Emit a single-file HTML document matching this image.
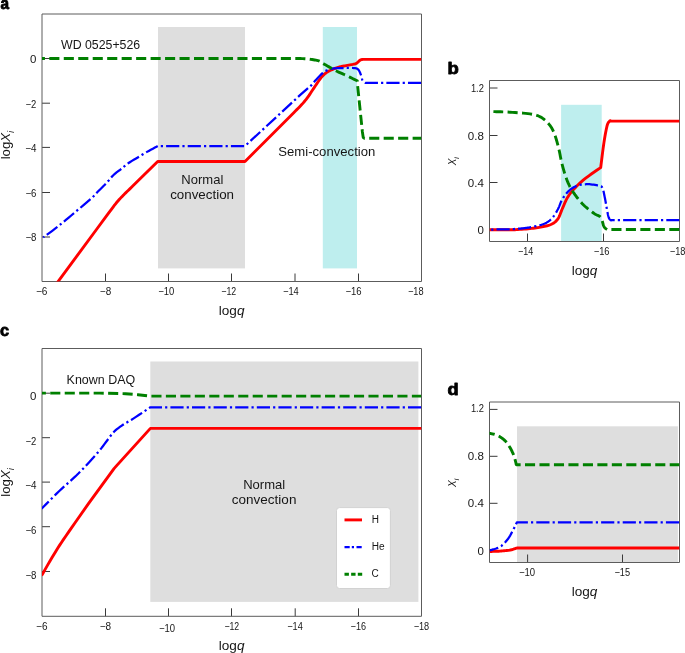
<!DOCTYPE html>
<html lang="en">
<head>
<meta charset="utf-8">
<title>Abundance profiles</title>
<style>
html,body{margin:0;padding:0;background:#ffffff;}
body{width:685px;height:653px;overflow:hidden;font-family:"Liberation Sans", Arial, Helvetica, sans-serif;}
svg{display:block;}
text{white-space:pre;}
</style>
</head>
<body>
<svg width="685" height="653" viewBox="0 0 685 653" font-family='"Liberation Sans", Arial, Helvetica, sans-serif' fill="#161616">
<rect width="685" height="653" fill="#ffffff"/>
<g id="panel-a">
<clipPath id="ca"><rect x="42.0" y="14.0" width="379.5" height="267.5"/></clipPath>
<rect x="158.0" y="27" width="87.0" height="241.4" fill="#dedede"/>
<rect x="322.8" y="27" width="34.2" height="241.4" fill="#beeeee"/>
<line x1="105.5" y1="281.5" x2="105.5" y2="273.5" stroke="#3a3a3a" stroke-width="1"/>
<line x1="168.5" y1="281.5" x2="168.5" y2="273.5" stroke="#3a3a3a" stroke-width="1"/>
<line x1="231.5" y1="281.5" x2="231.5" y2="273.5" stroke="#3a3a3a" stroke-width="1"/>
<line x1="295.0" y1="281.5" x2="295.0" y2="273.5" stroke="#3a3a3a" stroke-width="1"/>
<line x1="358.5" y1="281.5" x2="358.5" y2="273.5" stroke="#3a3a3a" stroke-width="1"/>
<line x1="42.0" y1="58.5" x2="50.0" y2="58.5" stroke="#3a3a3a" stroke-width="1"/>
<line x1="42.0" y1="103.2" x2="50.0" y2="103.2" stroke="#3a3a3a" stroke-width="1"/>
<line x1="42.0" y1="147.4" x2="50.0" y2="147.4" stroke="#3a3a3a" stroke-width="1"/>
<line x1="42.0" y1="192.5" x2="50.0" y2="192.5" stroke="#3a3a3a" stroke-width="1"/>
<line x1="42.0" y1="237.0" x2="50.0" y2="237.0" stroke="#3a3a3a" stroke-width="1"/>
<path d="M42.0 281.5V14.0H421.5V281.5Z" fill="none" stroke="#5c5c5c" stroke-width="1" stroke-linejoin="miter"/>
<polyline fill="none" stroke="#ff0000" stroke-width="2.9" stroke-linejoin="round" clip-path="url(#ca)" points="42.60,302.50 58.40,281.10 96.10,230.00 108.00,213.90 108.93,212.65 110.27,210.84 111.79,208.80 113.28,206.81 114.50,205.20 115.41,204.03 116.17,203.09 116.83,202.28 117.49,201.52 118.20,200.70 118.97,199.83 119.75,198.98 120.54,198.13 121.36,197.28 122.20,196.40 123.04,195.54 123.87,194.70 124.74,193.83 125.70,192.88 126.80,191.80 128.19,190.44 129.84,188.84 131.51,187.21 132.98,185.79 134.00,184.80 157.70,161.50 245.00,161.50 294.00,112.40 294.69,111.72 295.66,110.75 296.80,109.63 297.95,108.47 299.00,107.40 299.93,106.44 300.84,105.51 301.72,104.58 302.61,103.61 303.50,102.60 304.40,101.54 305.30,100.44 306.19,99.31 307.09,98.13 308.00,96.90 308.89,95.64 309.76,94.34 310.64,92.99 311.58,91.55 312.60,90.00 313.84,88.14 315.26,86.01 316.69,83.87 317.93,82.00 318.80,80.70 319.43,79.83 320.01,79.05 320.55,78.34 321.06,77.69 321.56,77.08 322.06,76.50 322.57,75.95 323.10,75.40 323.64,74.87 324.17,74.38 324.70,73.92 325.24,73.48 325.78,73.07 326.33,72.67 326.91,72.28 327.50,71.90 328.11,71.53 328.74,71.18 329.39,70.84 330.04,70.52 330.71,70.21 331.40,69.90 332.09,69.60 332.80,69.30 333.52,69.00 334.27,68.70 335.03,68.41 335.80,68.12 336.58,67.84 337.36,67.58 338.13,67.33 338.90,67.10 339.64,66.90 340.34,66.72 341.03,66.57 341.72,66.42 342.45,66.28 343.22,66.14 344.07,65.98 345.00,65.80 346.09,65.60 347.34,65.37 348.69,65.14 350.07,64.90 351.42,64.66 352.69,64.43 353.80,64.20 354.70,64.00 355.36,63.82 355.85,63.67 356.20,63.52 356.44,63.39 356.64,63.25 356.82,63.09 357.02,62.91 357.30,62.70 357.62,62.44 357.95,62.14 358.27,61.81 358.59,61.48 358.92,61.14 359.24,60.82 359.57,60.54 359.90,60.30 360.23,60.11 360.57,59.95 360.92,59.81 361.26,59.70 361.61,59.61 361.94,59.53 362.28,59.46 362.60,59.40 362.93,59.36 363.28,59.34 363.63,59.33 363.97,59.34 364.29,59.36 364.58,59.38 364.82,59.39 365.00,59.40 421.30,59.40"/>
<polyline fill="none" stroke="#0000ff" stroke-width="2.25" stroke-linejoin="round" stroke-dasharray="13.2 3.1 2.2 3.1" stroke-dashoffset="17.25" clip-path="url(#ca)" points="43.30,237.40 44.85,236.26 46.99,234.71 49.52,232.86 52.28,230.81 55.10,228.69 57.80,226.60 60.43,224.49 63.15,222.26 65.92,219.96 68.72,217.60 71.52,215.24 74.30,212.90 77.18,210.48 80.21,207.94 83.25,205.39 86.14,202.94 88.74,200.70 90.90,198.80 92.48,197.34 93.59,196.24 94.39,195.36 95.10,194.55 95.91,193.64 97.00,192.50 98.43,191.07 100.06,189.46 101.79,187.76 103.50,186.06 105.11,184.44 106.50,183.00 107.66,181.73 108.67,180.56 109.56,179.47 110.39,178.46 111.19,177.50 112.00,176.60 112.81,175.76 113.57,175.01 114.30,174.31 115.02,173.66 115.75,173.03 116.50,172.40 117.24,171.82 117.95,171.30 118.67,170.81 119.43,170.30 120.26,169.71 121.20,169.00 122.24,168.15 123.36,167.20 124.54,166.18 125.81,165.12 127.16,164.05 128.60,163.00 130.19,161.95 131.93,160.87 133.76,159.78 135.60,158.70 137.37,157.67 139.00,156.70 140.44,155.83 141.74,155.03 142.97,154.28 144.21,153.53 145.53,152.75 147.00,151.90 148.76,150.91 150.79,149.80 152.90,148.65 154.90,147.57 156.59,146.65 157.80,146.00 245.00,146.00 300.00,95.20 311.80,84.90 314.80,81.10 315.61,80.22 316.60,79.16 317.71,77.98 318.89,76.76 320.07,75.54 321.20,74.40 322.23,73.40 323.10,72.60 323.80,72.01 324.39,71.57 324.90,71.25 325.34,71.01 325.76,70.83 326.17,70.67 326.61,70.51 327.10,70.30 327.62,70.07 328.15,69.85 328.67,69.64 329.21,69.44 329.75,69.26 330.31,69.09 330.89,68.94 331.50,68.80 332.12,68.68 332.76,68.58 333.41,68.49 334.08,68.42 334.76,68.36 335.48,68.30 336.22,68.25 337.00,68.20 337.81,68.15 338.65,68.12 339.51,68.09 340.40,68.06 341.32,68.04 342.25,68.03 343.22,68.01 344.20,68.00 345.25,67.98 346.37,67.97 347.54,67.95 348.72,67.94 349.89,67.93 350.99,67.94 352.01,67.96 352.90,68.00 353.67,68.05 354.35,68.10 354.96,68.16 355.51,68.23 356.00,68.33 356.46,68.45 356.88,68.60 357.30,68.80 357.68,69.04 358.02,69.30 358.31,69.60 358.57,69.93 358.81,70.29 359.04,70.67 359.26,71.07 359.50,71.50 359.74,71.96 359.97,72.46 360.19,72.98 360.40,73.53 360.61,74.10 360.81,74.67 361.01,75.24 361.20,75.80 361.38,76.38 361.54,76.98 361.69,77.60 361.84,78.22 362.00,78.82 362.17,79.40 362.37,79.93 362.60,80.40 362.87,80.82 363.18,81.21 363.52,81.57 363.88,81.89 364.23,82.17 364.58,82.42 364.91,82.63 365.20,82.80 365.48,82.91 365.75,82.97 366.01,82.98 366.26,82.95 366.49,82.91 366.70,82.86 366.87,82.82 367.00,82.80 421.30,82.80"/>
<polyline fill="none" stroke="#008000" stroke-width="2.9" stroke-linejoin="round" stroke-dasharray="10.1 4.37" stroke-dashoffset="9.64" clip-path="url(#ca)" points="30.00,58.50 300.00,58.50 300.75,58.55 301.76,58.60 302.95,58.67 304.28,58.74 305.68,58.83 307.09,58.94 308.45,59.06 309.70,59.20 310.90,59.36 312.15,59.54 313.40,59.74 314.64,59.96 315.82,60.18 316.93,60.42 317.93,60.66 318.80,60.90 319.47,61.13 319.95,61.35 320.29,61.57 320.58,61.80 320.85,62.06 321.19,62.35 321.65,62.69 322.30,63.10 323.17,63.60 324.21,64.19 325.37,64.84 326.59,65.53 327.82,66.21 329.01,66.87 330.08,67.48 331.00,68.00 331.73,68.43 332.30,68.78 332.77,69.09 333.19,69.36 333.62,69.63 334.09,69.91 334.67,70.23 335.40,70.60 336.32,71.04 337.41,71.53 338.59,72.06 339.83,72.60 341.07,73.13 342.24,73.64 343.30,74.10 344.20,74.50 344.89,74.81 345.40,75.03 345.79,75.21 346.12,75.36 346.46,75.51 346.87,75.70 347.39,75.96 348.10,76.30 349.06,76.77 350.24,77.36 351.57,78.02 352.94,78.71 354.29,79.39 355.52,80.01 356.55,80.53 357.30,80.90 357.60,85.50 362.40,132.00 363.20,137.40 364.50,138.20 421.30,138.20"/>
<text transform="translate(0.6 9.2) scale(0.93 1)" font-size="16.5" font-weight="bold" fill="#000" stroke="#000" stroke-width="0.8" stroke-linejoin="round">a</text>
<text x="61.00" y="49.20" font-size="12.3" text-anchor="start" textLength="79.2" lengthAdjust="spacingAndGlyphs" >WD 0525+526</text>
<text x="181.30" y="183.80" font-size="12.2" text-anchor="start" textLength="42.0" lengthAdjust="spacingAndGlyphs" >Normal</text>
<text x="170.15" y="198.50" font-size="12.2" text-anchor="start" textLength="63.9" lengthAdjust="spacingAndGlyphs" >convection</text>
<text x="278.30" y="155.80" font-size="12.2" text-anchor="start" textLength="97" lengthAdjust="spacingAndGlyphs" >Semi-convection</text>
<text x="30.00" y="62.90" font-size="10.5" text-anchor="start" textLength="6.4" lengthAdjust="spacingAndGlyphs" >0</text>
<text x="25.60" y="107.60" font-size="10.5" text-anchor="start" textLength="10.8" lengthAdjust="spacingAndGlyphs" >−2</text>
<text x="25.20" y="151.80" font-size="10.5" text-anchor="start" textLength="11.2" lengthAdjust="spacingAndGlyphs" >−4</text>
<text x="25.40" y="196.90" font-size="10.5" text-anchor="start" textLength="11.0" lengthAdjust="spacingAndGlyphs" >−6</text>
<text x="25.40" y="241.40" font-size="10.5" text-anchor="start" textLength="11.0" lengthAdjust="spacingAndGlyphs" >−8</text>
<text x="35.95" y="295.00" font-size="10.5" text-anchor="start" textLength="11.5" lengthAdjust="spacingAndGlyphs" >−6</text>
<text x="99.85" y="295.00" font-size="10.5" text-anchor="start" textLength="11.3" lengthAdjust="spacingAndGlyphs" >−8</text>
<text x="158.30" y="295.30" font-size="10.5" text-anchor="start" textLength="16.0" lengthAdjust="spacingAndGlyphs" >−10</text>
<text x="221.35" y="295.10" font-size="10.5" text-anchor="start" textLength="14.9" lengthAdjust="spacingAndGlyphs" >−12</text>
<text x="283.00" y="295.00" font-size="10.5" text-anchor="start" textLength="15.8" lengthAdjust="spacingAndGlyphs" >−14</text>
<text x="345.45" y="295.00" font-size="10.5" text-anchor="start" textLength="16.1" lengthAdjust="spacingAndGlyphs" >−16</text>
<text x="408.00" y="295.00" font-size="10.5" text-anchor="start" textLength="15.6" lengthAdjust="spacingAndGlyphs" >−18</text>
<text x="218.80" y="315.3" font-size="12.3" textLength="25.7" lengthAdjust="spacingAndGlyphs">log<tspan font-style="italic">q</tspan></text>
<text transform="translate(10.1 145.1) rotate(-90)" font-size="12.3" text-anchor="middle" textLength="28.5" lengthAdjust="spacingAndGlyphs">log<tspan font-style="italic">X</tspan><tspan font-style="italic" font-size="9" dy="3.6">i</tspan></text>
</g>
<g id="panel-b">
<clipPath id="cb"><rect x="489.5" y="80.5" width="190.0" height="161.0"/></clipPath>
<rect x="561.1" y="104.8" width="40.6" height="136.7" fill="#beeeee"/>
<line x1="527.5" y1="241.5" x2="527.5" y2="233.5" stroke="#3a3a3a" stroke-width="1"/>
<line x1="603.5" y1="241.5" x2="603.5" y2="233.5" stroke="#3a3a3a" stroke-width="1"/>
<line x1="489.5" y1="88.0" x2="497.5" y2="88.0" stroke="#3a3a3a" stroke-width="1"/>
<line x1="489.5" y1="135.5" x2="497.5" y2="135.5" stroke="#3a3a3a" stroke-width="1"/>
<line x1="489.5" y1="182.5" x2="497.5" y2="182.5" stroke="#3a3a3a" stroke-width="1"/>
<line x1="489.5" y1="229.5" x2="497.5" y2="229.5" stroke="#3a3a3a" stroke-width="1"/>
<path d="M489.5 241.5V80.5H679.5V241.5Z" fill="none" stroke="#5c5c5c" stroke-width="1" stroke-linejoin="miter"/>
<polyline fill="none" stroke="#ff0000" stroke-width="2.9" stroke-linejoin="round" clip-path="url(#cb)" points="489.50,229.70 515.00,229.70 516.18,229.62 517.77,229.52 519.66,229.40 521.75,229.26 523.94,229.11 526.11,228.95 528.17,228.78 530.00,228.60 531.66,228.41 533.27,228.22 534.83,228.01 536.35,227.79 537.82,227.56 539.25,227.32 540.64,227.06 542.00,226.80 543.32,226.54 544.60,226.29 545.84,226.04 547.04,225.78 548.20,225.48 549.31,225.15 550.38,224.76 551.40,224.30 552.37,223.79 553.28,223.25 554.15,222.67 554.98,222.04 555.76,221.36 556.50,220.61 557.22,219.80 557.90,218.90 558.53,217.92 559.08,216.85 559.59,215.70 560.07,214.50 560.54,213.25 561.02,211.95 561.53,210.63 562.10,209.30 562.70,207.92 563.32,206.45 563.94,204.94 564.59,203.40 565.27,201.86 565.97,200.35 566.72,198.88 567.50,197.50 568.32,196.20 569.15,194.95 570.02,193.74 570.92,192.57 571.86,191.41 572.85,190.26 573.90,189.09 575.00,187.90 576.15,186.70 577.35,185.51 578.59,184.31 579.88,183.12 581.23,181.92 582.65,180.70 584.13,179.46 585.70,178.20 587.47,176.84 589.50,175.34 591.67,173.79 593.87,172.24 595.98,170.77 597.90,169.45 599.51,168.33 600.70,167.50 600.95,165.55 601.28,162.91 601.67,159.75 602.10,156.28 602.56,152.66 603.02,149.11 603.48,145.79 603.90,142.90 604.30,140.31 604.71,137.78 605.13,135.35 605.54,133.05 605.94,130.90 606.34,128.94 606.73,127.20 607.10,125.70 607.46,124.49 607.82,123.56 608.18,122.85 608.52,122.33 608.85,121.93 609.16,121.63 609.44,121.37 609.70,121.10 609.93,120.88 610.15,120.78 610.34,120.76 610.51,120.81 610.66,120.90 610.80,120.99 610.91,121.07 611.00,121.10 679.50,121.10"/>
<polyline fill="none" stroke="#0000ff" stroke-width="2.25" stroke-linejoin="round" stroke-dasharray="13.2 3.1 2.2 3.1" stroke-dashoffset="14.6" clip-path="url(#cb)" points="489.50,229.60 510.00,229.30 510.95,229.23 512.25,229.14 513.80,229.04 515.50,228.92 517.27,228.79 519.00,228.66 520.61,228.53 522.00,228.40 523.16,228.29 524.17,228.18 525.08,228.09 525.94,227.98 526.82,227.86 527.75,227.71 528.79,227.53 530.00,227.30 531.41,227.03 532.98,226.74 534.67,226.42 536.42,226.07 538.17,225.68 539.87,225.26 541.46,224.80 542.90,224.30 544.19,223.77 545.38,223.22 546.50,222.64 547.55,222.01 548.55,221.34 549.52,220.60 550.46,219.79 551.40,218.90 552.32,217.90 553.22,216.80 554.09,215.61 554.92,214.37 555.72,213.09 556.48,211.81 557.21,210.53 557.90,209.30 558.52,208.08 559.06,206.85 559.54,205.62 560.00,204.38 560.46,203.15 560.94,201.94 561.48,200.76 562.10,199.60 562.79,198.46 563.52,197.32 564.28,196.19 565.08,195.08 565.91,194.01 566.78,192.98 567.68,192.01 568.60,191.10 569.55,190.25 570.53,189.44 571.54,188.68 572.58,187.96 573.66,187.30 574.77,186.70 575.91,186.17 577.10,185.70 578.34,185.31 579.64,184.98 580.99,184.72 582.36,184.52 583.76,184.37 585.15,184.27 586.54,184.22 587.90,184.20 589.29,184.24 590.74,184.35 592.22,184.51 593.69,184.72 595.10,184.95 596.41,185.21 597.59,185.46 598.60,185.70 599.41,185.88 600.06,186.00 600.58,186.10 601.01,186.22 601.37,186.42 601.70,186.74 602.03,187.21 602.40,187.90 602.78,188.79 603.12,189.83 603.44,191.01 603.74,192.32 604.03,193.75 604.34,195.28 604.65,196.90 605.00,198.60 605.38,200.52 605.78,202.72 606.20,205.11 606.62,207.55 607.05,209.94 607.46,212.17 607.84,214.13 608.20,215.70 608.53,216.88 608.83,217.78 609.12,218.44 609.40,218.92 609.66,219.26 609.92,219.53 610.16,219.76 610.40,220.00 610.64,220.21 610.88,220.30 611.11,220.31 611.34,220.27 611.54,220.19 611.73,220.10 611.88,220.03 612.00,220.00 679.50,220.00"/>
<polyline fill="none" stroke="#008000" stroke-width="2.9" stroke-linejoin="round" stroke-dasharray="10.1 4.37" stroke-dashoffset="0.29" clip-path="url(#cb)" points="493.40,111.60 494.66,111.64 496.30,111.68 498.26,111.73 500.45,111.79 502.80,111.87 505.22,111.96 507.65,112.07 510.00,112.20 512.40,112.35 514.98,112.51 517.66,112.69 520.37,112.89 523.03,113.10 525.57,113.34 527.92,113.61 530.00,113.90 531.80,114.20 533.38,114.49 534.79,114.80 536.06,115.14 537.25,115.52 538.39,115.96 539.53,116.48 540.70,117.10 541.90,117.82 543.08,118.62 544.22,119.50 545.34,120.44 546.41,121.44 547.43,122.47 548.40,123.53 549.30,124.60 550.13,125.67 550.88,126.75 551.57,127.84 552.22,128.98 552.83,130.18 553.42,131.45 554.01,132.82 554.60,134.30 555.19,135.92 555.77,137.68 556.33,139.54 556.88,141.47 557.41,143.44 557.93,145.43 558.42,147.39 558.90,149.30 559.34,151.16 559.73,153.00 560.08,154.83 560.43,156.67 560.79,158.52 561.17,160.40 561.60,162.32 562.10,164.30 562.66,166.37 563.27,168.55 563.92,170.79 564.60,173.05 565.31,175.28 566.03,177.45 566.76,179.50 567.50,181.40 568.23,183.13 568.95,184.72 569.68,186.21 570.43,187.63 571.21,189.01 572.04,190.37 572.94,191.76 573.90,193.20 574.95,194.70 576.07,196.22 577.25,197.77 578.48,199.30 579.74,200.81 581.03,202.27 582.32,203.68 583.60,205.00 584.92,206.26 586.31,207.49 587.73,208.67 589.16,209.80 590.56,210.87 591.90,211.86 593.16,212.78 594.30,213.60 595.33,214.27 596.28,214.77 597.16,215.15 597.97,215.47 598.72,215.81 599.43,216.20 600.08,216.71 600.70,217.40 601.25,218.32 601.73,219.42 602.13,220.66 602.50,221.95 602.84,223.24 603.18,224.45 603.52,225.53 603.90,226.40 604.31,227.08 604.73,227.64 605.16,228.09 605.58,228.46 606.00,228.75 606.39,228.99 606.76,229.20 607.10,229.40 607.41,229.55 607.71,229.63 607.99,229.65 608.25,229.64 608.48,229.60 608.69,229.55 608.86,229.51 609.00,229.50 679.50,229.50"/>
<text transform="translate(447.6 73.7) scale(1.17 1)" font-size="15.8" font-weight="bold" fill="#000" stroke="#000" stroke-width="0.8" stroke-linejoin="round">b</text>
<text x="470.90" y="91.90" font-size="10.5" text-anchor="start" textLength="13.0" lengthAdjust="spacingAndGlyphs" >1.2</text>
<text x="467.80" y="139.90" font-size="10.5" text-anchor="start" textLength="16.1" lengthAdjust="spacingAndGlyphs" >0.8</text>
<text x="467.80" y="186.90" font-size="10.5" text-anchor="start" textLength="16.1" lengthAdjust="spacingAndGlyphs" >0.4</text>
<text x="477.50" y="233.90" font-size="10.5" text-anchor="start" textLength="6.4" lengthAdjust="spacingAndGlyphs" >0</text>
<text x="518.10" y="254.70" font-size="10.5" text-anchor="start" textLength="15.2" lengthAdjust="spacingAndGlyphs" >−14</text>
<text x="593.70" y="254.70" font-size="10.5" text-anchor="start" textLength="15.8" lengthAdjust="spacingAndGlyphs" >−16</text>
<text x="669.80" y="254.70" font-size="10.5" text-anchor="start" textLength="15.6" lengthAdjust="spacingAndGlyphs" >−18</text>
<text x="571.75" y="274.9" font-size="12.3" textLength="25.7" lengthAdjust="spacingAndGlyphs">log<tspan font-style="italic">q</tspan></text>
<text transform="translate(456.2 161.2) rotate(-90)" font-size="10.5" text-anchor="middle" textLength="8.2" lengthAdjust="spacingAndGlyphs"><tspan font-style="italic">X</tspan><tspan font-style="italic" font-size="7.2" dy="3.0">i</tspan></text>
</g>
<g id="panel-c">
<clipPath id="cc"><rect x="42.0" y="348.5" width="379.5" height="267.79999999999995"/></clipPath>
<rect x="150.3" y="361.5" width="268.1" height="240.4" fill="#dedede"/>
<line x1="105.5" y1="616.3" x2="105.5" y2="608.3" stroke="#3a3a3a" stroke-width="1"/>
<line x1="168.5" y1="616.3" x2="168.5" y2="608.3" stroke="#3a3a3a" stroke-width="1"/>
<line x1="231.5" y1="616.3" x2="231.5" y2="608.3" stroke="#3a3a3a" stroke-width="1"/>
<line x1="295.2" y1="616.3" x2="295.2" y2="608.3" stroke="#3a3a3a" stroke-width="1"/>
<line x1="358.5" y1="616.3" x2="358.5" y2="608.3" stroke="#3a3a3a" stroke-width="1"/>
<line x1="42.0" y1="393.2" x2="50.0" y2="393.2" stroke="#3a3a3a" stroke-width="1"/>
<line x1="42.0" y1="437.7" x2="50.0" y2="437.7" stroke="#3a3a3a" stroke-width="1"/>
<line x1="42.0" y1="482.1" x2="50.0" y2="482.1" stroke="#3a3a3a" stroke-width="1"/>
<line x1="42.0" y1="526.7" x2="50.0" y2="526.7" stroke="#3a3a3a" stroke-width="1"/>
<line x1="42.0" y1="571.5" x2="50.0" y2="571.5" stroke="#3a3a3a" stroke-width="1"/>
<path d="M42.0 616.3V348.5H421.5V616.3Z" fill="none" stroke="#5c5c5c" stroke-width="1" stroke-linejoin="miter"/>
<polyline fill="none" stroke="#ff0000" stroke-width="2.9" stroke-linejoin="round" clip-path="url(#cc)" points="41.60,575.60 43.12,572.94 45.30,569.12 47.73,564.89 50.00,561.00 52.04,557.56 54.04,554.21 56.03,550.95 58.00,547.80 59.86,544.90 61.64,542.19 63.53,539.39 65.70,536.20 68.54,532.09 71.83,527.38 74.89,523.02 77.00,520.00 88.30,503.90 112.00,471.30 114.00,468.60 116.20,466.10 150.40,428.40 421.50,428.40"/>
<polyline fill="none" stroke="#0000ff" stroke-width="2.25" stroke-linejoin="round" stroke-dasharray="13.2 3.1 2.2 3.1" stroke-dashoffset="3.02" clip-path="url(#cc)" points="41.60,508.70 43.51,506.77 46.13,504.11 49.24,500.96 52.63,497.56 56.05,494.15 59.30,491.00 62.42,488.09 65.61,485.22 68.85,482.35 72.11,479.44 75.36,476.44 78.60,473.30 81.95,469.88 85.45,466.18 88.95,462.39 92.30,458.71 95.33,455.31 97.90,452.40 99.90,450.06 101.43,448.15 102.66,446.53 103.72,445.06 104.79,443.60 106.00,442.00 107.33,440.25 108.64,438.47 109.94,436.69 111.26,434.96 112.61,433.31 114.00,431.80 115.43,430.44 116.88,429.20 118.36,428.05 119.87,426.96 121.41,425.88 123.00,424.80 124.56,423.78 126.09,422.86 127.64,421.97 129.31,421.01 131.17,419.92 133.30,418.60 135.95,416.88 139.13,414.79 142.49,412.56 145.71,410.42 148.46,408.59 150.40,407.30 421.50,407.30"/>
<polyline fill="none" stroke="#008000" stroke-width="2.9" stroke-linejoin="round" stroke-dasharray="10.1 4.37" stroke-dashoffset="8.7" clip-path="url(#cc)" points="30.00,393.10 100.00,393.10 125.60,393.70 138.00,394.70 150.30,396.10 421.30,396.10"/>
<text transform="translate(0.1 336.4) scale(1.0 1)" font-size="16.3" font-weight="bold" fill="#000" stroke="#000" stroke-width="0.8" stroke-linejoin="round">c</text>
<text x="66.60" y="384.00" font-size="12.3" text-anchor="start" textLength="68.6" lengthAdjust="spacingAndGlyphs" >Known DAQ</text>
<text x="243.20" y="489.40" font-size="12.2" text-anchor="start" textLength="42.0" lengthAdjust="spacingAndGlyphs" >Normal</text>
<text x="231.80" y="504.10" font-size="12.2" text-anchor="start" textLength="64.6" lengthAdjust="spacingAndGlyphs" >convection</text>
<text x="30.00" y="400.40" font-size="10.5" text-anchor="start" textLength="6.4" lengthAdjust="spacingAndGlyphs" >0</text>
<text x="25.60" y="444.90" font-size="10.5" text-anchor="start" textLength="10.8" lengthAdjust="spacingAndGlyphs" >−2</text>
<text x="25.20" y="489.30" font-size="10.5" text-anchor="start" textLength="11.2" lengthAdjust="spacingAndGlyphs" >−4</text>
<text x="25.40" y="533.90" font-size="10.5" text-anchor="start" textLength="11.0" lengthAdjust="spacingAndGlyphs" >−6</text>
<text x="25.40" y="578.70" font-size="10.5" text-anchor="start" textLength="11.0" lengthAdjust="spacingAndGlyphs" >−8</text>
<text x="36.10" y="629.90" font-size="10.5" text-anchor="start" textLength="11.4" lengthAdjust="spacingAndGlyphs" >−6</text>
<text x="99.70" y="629.90" font-size="10.5" text-anchor="start" textLength="11.4" lengthAdjust="spacingAndGlyphs" >−8</text>
<text x="158.95" y="631.80" font-size="10.5" text-anchor="start" textLength="16.1" lengthAdjust="spacingAndGlyphs" >−10</text>
<text x="224.40" y="630.30" font-size="10.5" text-anchor="start" textLength="14.8" lengthAdjust="spacingAndGlyphs" >−12</text>
<text x="287.20" y="630.00" font-size="10.5" text-anchor="start" textLength="15.6" lengthAdjust="spacingAndGlyphs" >−14</text>
<text x="350.60" y="630.00" font-size="10.5" text-anchor="start" textLength="15.4" lengthAdjust="spacingAndGlyphs" >−16</text>
<text x="413.65" y="629.90" font-size="10.5" text-anchor="start" textLength="15.5" lengthAdjust="spacingAndGlyphs" >−18</text>
<text x="218.80" y="649.5" font-size="12.3" textLength="25.7" lengthAdjust="spacingAndGlyphs">log<tspan font-style="italic">q</tspan></text>
<text transform="translate(10.1 482.4) rotate(-90)" font-size="12.3" text-anchor="middle" textLength="28.5" lengthAdjust="spacingAndGlyphs">log<tspan font-style="italic">X</tspan><tspan font-style="italic" font-size="9" dy="3.6">i</tspan></text>
<rect x="336.5" y="507.6" width="53.9" height="80.9" rx="3" fill="#ffffff" stroke="#d2d2d2" stroke-width="1"/>
<line x1="344.5" y1="519.9" x2="362.0" y2="519.9" stroke="#ff0000" stroke-width="2.9"/>
<line x1="344.5" y1="547.1" x2="362.0" y2="547.1" stroke="#0000ff" stroke-width="2.25" stroke-dasharray="5.2 2.1 2.2 2.5"/>
<line x1="344.5" y1="574.3" x2="362.2" y2="574.3" stroke="#008000" stroke-width="2.9" stroke-dasharray="4.4 2.25"/>
<text x="371.70" y="522.90" font-size="10" text-anchor="start" >H</text>
<text x="371.70" y="550.10" font-size="10" text-anchor="start" textLength="12.9" lengthAdjust="spacingAndGlyphs" >He</text>
<text x="371.50" y="577.40" font-size="10" text-anchor="start" >C</text>
</g>
<g id="panel-d">
<clipPath id="cd"><rect x="489.5" y="402.0" width="190.0" height="160.5"/></clipPath>
<rect x="517.0" y="426.3" width="160.9" height="136.2" fill="#dedede"/>
<line x1="527.6" y1="562.5" x2="527.6" y2="554.5" stroke="#3a3a3a" stroke-width="1"/>
<line x1="622.5" y1="562.5" x2="622.5" y2="554.5" stroke="#3a3a3a" stroke-width="1"/>
<line x1="489.5" y1="409.4" x2="497.5" y2="409.4" stroke="#3a3a3a" stroke-width="1"/>
<line x1="489.5" y1="456.3" x2="497.5" y2="456.3" stroke="#3a3a3a" stroke-width="1"/>
<line x1="489.5" y1="503.3" x2="497.5" y2="503.3" stroke="#3a3a3a" stroke-width="1"/>
<line x1="489.5" y1="551.0" x2="497.5" y2="551.0" stroke="#3a3a3a" stroke-width="1"/>
<path d="M489.5 562.5V402.0H679.5V562.5Z" fill="none" stroke="#5c5c5c" stroke-width="1" stroke-linejoin="miter"/>
<polyline fill="none" stroke="#ff0000" stroke-width="2.9" stroke-linejoin="round" clip-path="url(#cd)" points="489.80,551.50 490.59,551.47 491.63,551.44 492.87,551.41 494.25,551.37 495.71,551.32 497.20,551.26 498.65,551.19 500.00,551.10 501.32,551.00 502.68,550.90 504.06,550.78 505.43,550.65 506.78,550.51 508.07,550.35 509.29,550.19 510.40,550.00 511.44,549.78 512.45,549.52 513.41,549.23 514.30,548.93 515.11,548.64 515.82,548.38 516.43,548.16 516.90,548.00 679.50,548.00"/>
<polyline fill="none" stroke="#0000ff" stroke-width="2.25" stroke-linejoin="round" stroke-dasharray="13.2 3.1 2.2 3.1" stroke-dashoffset="4.38" clip-path="url(#cd)" points="489.80,550.40 490.64,550.13 491.78,549.81 493.13,549.42 494.63,548.98 496.19,548.47 497.72,547.91 499.15,547.28 500.40,546.60 501.50,545.84 502.55,544.99 503.55,544.07 504.50,543.10 505.41,542.09 506.27,541.06 507.10,540.02 507.90,539.00 508.65,537.97 509.35,536.91 510.00,535.83 510.62,534.73 511.21,533.63 511.78,532.54 512.34,531.46 512.90,530.40 513.48,529.31 514.06,528.15 514.65,526.97 515.21,525.81 515.74,524.72 516.20,523.74 516.60,522.92 516.90,522.30 679.50,522.30"/>
<polyline fill="none" stroke="#008000" stroke-width="2.9" stroke-linejoin="round" stroke-dasharray="10.1 4.37" stroke-dashoffset="0.28" clip-path="url(#cd)" points="485.00,432.70 485.36,432.75 485.84,432.82 486.41,432.90 487.04,432.99 487.72,433.08 488.40,433.19 489.07,433.29 489.70,433.40 490.31,433.51 490.94,433.61 491.57,433.73 492.21,433.84 492.83,433.97 493.45,434.10 494.04,434.24 494.60,434.40 495.12,434.56 495.62,434.73 496.09,434.91 496.54,435.10 496.99,435.30 497.45,435.52 497.91,435.75 498.40,436.00 498.91,436.27 499.43,436.56 499.96,436.86 500.50,437.18 501.04,437.51 501.57,437.86 502.09,438.22 502.60,438.60 503.10,439.00 503.61,439.44 504.12,439.89 504.62,440.36 505.10,440.84 505.56,441.30 506.00,441.76 506.40,442.20 506.76,442.61 507.07,443.00 507.36,443.37 507.62,443.74 507.88,444.12 508.14,444.52 508.41,444.94 508.70,445.40 509.01,445.89 509.33,446.41 509.66,446.96 509.99,447.52 510.33,448.10 510.66,448.69 510.98,449.29 511.30,449.90 511.62,450.53 511.94,451.18 512.25,451.85 512.57,452.53 512.87,453.21 513.17,453.89 513.44,454.56 513.70,455.20 513.93,455.82 514.15,456.44 514.35,457.04 514.53,457.64 514.71,458.23 514.87,458.82 515.04,459.41 515.20,460.00 515.36,460.62 515.53,461.29 515.69,461.98 515.84,462.65 515.99,463.29 516.11,463.86 516.22,464.34 516.30,464.70 679.50,464.70"/>
<text transform="translate(447.4 394.7) scale(1.15 1)" font-size="15.8" font-weight="bold" fill="#000" stroke="#000" stroke-width="0.8" stroke-linejoin="round">d</text>
<text x="470.90" y="412.00" font-size="10.5" text-anchor="start" textLength="13.0" lengthAdjust="spacingAndGlyphs" >1.2</text>
<text x="467.80" y="459.70" font-size="10.5" text-anchor="start" textLength="16.1" lengthAdjust="spacingAndGlyphs" >0.8</text>
<text x="467.80" y="507.20" font-size="10.5" text-anchor="start" textLength="16.1" lengthAdjust="spacingAndGlyphs" >0.4</text>
<text x="477.50" y="554.70" font-size="10.5" text-anchor="start" textLength="6.4" lengthAdjust="spacingAndGlyphs" >0</text>
<text x="518.90" y="576.20" font-size="10.5" text-anchor="start" textLength="16.2" lengthAdjust="spacingAndGlyphs" >−10</text>
<text x="614.50" y="576.20" font-size="10.5" text-anchor="start" textLength="15.6" lengthAdjust="spacingAndGlyphs" >−15</text>
<text x="571.75" y="596.0" font-size="12.3" textLength="25.7" lengthAdjust="spacingAndGlyphs">log<tspan font-style="italic">q</tspan></text>
<text transform="translate(456.2 482.9) rotate(-90)" font-size="10.5" text-anchor="middle" textLength="8.2" lengthAdjust="spacingAndGlyphs"><tspan font-style="italic">X</tspan><tspan font-style="italic" font-size="7.2" dy="3.0">i</tspan></text>
</g>
</svg>
</body>
</html>
